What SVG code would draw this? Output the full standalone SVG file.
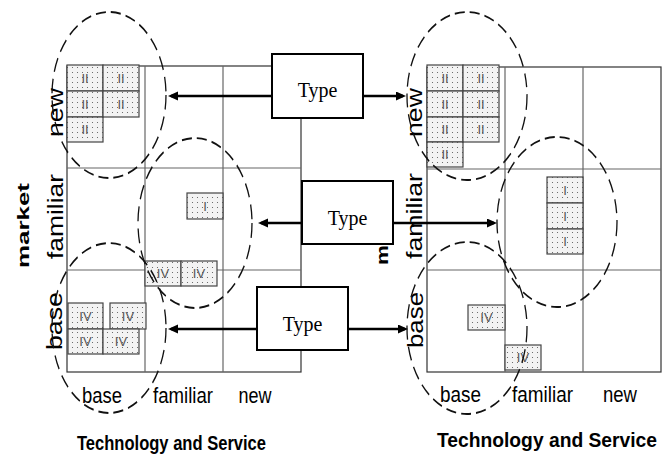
<svg xmlns="http://www.w3.org/2000/svg" width="667" height="457" viewBox="0 0 667 457">
<style>
.grid{fill:none;stroke:#333;stroke-width:1.2}
.inner{stroke:#666;stroke-width:1.2}
.cell{fill:url(#dots);stroke:#444;stroke-width:1.2}
.cl{font-family:"Liberation Sans",Arial,sans-serif;font-size:13px;fill:#555;text-anchor:middle}
.lab{font-family:"Liberation Sans",Arial,sans-serif;font-size:22px;fill:#000;text-anchor:middle}
.bold{font-family:"Liberation Sans",Arial,sans-serif;font-weight:bold;fill:#000}
.ell{fill:none;stroke:#111;stroke-width:1.3;stroke-dasharray:10 5}
.type rect{fill:#fff;stroke:#000;stroke-width:2}
.type text{font-family:"Liberation Serif","Times New Roman",serif;font-size:20px;text-anchor:middle;fill:#000}
.arr{stroke:#000;stroke-width:2.5;fill:none;marker-end:url(#ah)}
</style>
<defs>
<pattern id="dots" width="5" height="5" patternUnits="userSpaceOnUse">
<rect width="5" height="5" fill="#f3f3f3"/>
<circle cx="2.5" cy="2.5" r="0.55" fill="#555"/>
</pattern>
<marker id="ah" markerUnits="userSpaceOnUse" markerWidth="12" markerHeight="10" refX="7" refY="4.5" orient="auto">
<path d="M0,0 L10,4.5 L0,9 z" fill="#000"/>
</marker>
</defs>
<rect width="667" height="457" fill="#fff"/>

<g id="grid-left">
<rect class="grid" x="67" y="66" width="234" height="306"/>
<line class="inner" x1="145" y1="66" x2="145" y2="372"/>
<line class="inner" x1="223" y1="66" x2="223" y2="372"/>
<line class="inner" x1="67" y1="168" x2="301" y2="168"/>
<line class="inner" x1="67" y1="270" x2="301" y2="270"/>
</g>
<g id="grid-right">
<rect class="grid" x="427" y="67" width="234" height="305"/>
<line class="inner" x1="505" y1="67" x2="505" y2="372"/>
<line class="inner" x1="583" y1="67" x2="583" y2="372"/>
<line class="inner" x1="427" y1="169" x2="661" y2="169"/>
<line class="inner" x1="427" y1="270" x2="661" y2="270"/>
</g>

<g id="cells-left">
<rect class="cell" x="67" y="65" width="36" height="26"/><text class="cl" x="85" y="82.5">II</text>
<rect class="cell" x="103" y="65" width="36" height="26"/><text class="cl" x="121" y="82.5">II</text>
<rect class="cell" x="67" y="91" width="36" height="26"/><text class="cl" x="85" y="108.5">II</text>
<rect class="cell" x="103" y="91" width="36" height="26"/><text class="cl" x="121" y="108.5">II</text>
<rect class="cell" x="67" y="117" width="36" height="25"/><text class="cl" x="85" y="134">II</text>
<rect class="cell" x="187" y="193" width="36" height="26"/><text class="cl" x="205" y="210.5">I</text>
<rect class="cell" x="145" y="261" width="36" height="25"/><text class="cl" x="163" y="278">IV</text>
<rect class="cell" x="181" y="261" width="36" height="25"/><text class="cl" x="199" y="278">IV</text>
<rect class="cell" x="68" y="303" width="35" height="26"/><text class="cl" x="85.5" y="320.5">IV</text>
<rect class="cell" x="110" y="303" width="36" height="26"/><text class="cl" x="128" y="320.5">IV</text>
<rect class="cell" x="68" y="329" width="35" height="25"/><text class="cl" x="85.5" y="346">IV</text>
<rect class="cell" x="103" y="329" width="36" height="25"/><text class="cl" x="121" y="346">IV</text>
</g>
<g id="cells-right">
<rect class="cell" x="427" y="65" width="36" height="26"/><text class="cl" x="445" y="82.5">II</text>
<rect class="cell" x="463" y="65" width="36" height="26"/><text class="cl" x="481" y="82.5">II</text>
<rect class="cell" x="427" y="91" width="36" height="26"/><text class="cl" x="445" y="108.5">II</text>
<rect class="cell" x="463" y="91" width="36" height="26"/><text class="cl" x="481" y="108.5">II</text>
<rect class="cell" x="427" y="117" width="36" height="25"/><text class="cl" x="445" y="134">II</text>
<rect class="cell" x="463" y="117" width="36" height="25"/><text class="cl" x="481" y="134">II</text>
<rect class="cell" x="427" y="142" width="36" height="25"/><text class="cl" x="445" y="159">II</text>
<rect class="cell" x="547" y="177" width="36" height="26"/><text class="cl" x="565" y="194.5">I</text>
<rect class="cell" x="547" y="203" width="36" height="26"/><text class="cl" x="565" y="220.5">I</text>
<rect class="cell" x="547" y="229" width="36" height="25"/><text class="cl" x="565" y="246">I</text>
<rect class="cell" x="468" y="305" width="37" height="25"/><text class="cl" x="486.5" y="322">IV</text>
<rect class="cell" x="505" y="345" width="36" height="25"/><text class="cl" x="523" y="362">IV</text>
</g>

<g id="labels">
<text class="lab" transform="translate(63,112.5) rotate(-90)" textLength="49" lengthAdjust="spacingAndGlyphs">new</text>
<text class="lab" transform="translate(63,216.5) rotate(-90)" textLength="85" lengthAdjust="spacingAndGlyphs">familiar</text>
<text class="lab" transform="translate(62,321) rotate(-90)" textLength="58" lengthAdjust="spacingAndGlyphs">base</text>
<text class="lab" transform="translate(422,112.5) rotate(-90)" textLength="49" lengthAdjust="spacingAndGlyphs">new</text>
<text class="lab" transform="translate(422,216) rotate(-90)" textLength="86" lengthAdjust="spacingAndGlyphs">familiar</text>
<text class="lab" transform="translate(423,320) rotate(-90)" textLength="56" lengthAdjust="spacingAndGlyphs">base</text>
<text class="lab" x="102" y="403" textLength="40" lengthAdjust="spacingAndGlyphs">base</text>
<text class="lab" x="183" y="403" textLength="60" lengthAdjust="spacingAndGlyphs">familiar</text>
<text class="lab" x="255" y="403" textLength="33" lengthAdjust="spacingAndGlyphs">new</text>
<text class="lab" x="460.5" y="402" textLength="41" lengthAdjust="spacingAndGlyphs">base</text>
<text class="lab" x="542.5" y="402" textLength="61" lengthAdjust="spacingAndGlyphs">familiar</text>
<text class="lab" x="620" y="402" textLength="34" lengthAdjust="spacingAndGlyphs">new</text>
<text class="bold" font-size="17" text-anchor="middle" transform="translate(29,225.5) rotate(-90)" textLength="85" lengthAdjust="spacingAndGlyphs">market</text>
<text class="bold" font-size="17" transform="translate(388,265) rotate(-90)" textLength="20" lengthAdjust="spacingAndGlyphs">m</text>
<text class="bold" font-size="21" x="77" y="450" textLength="189" lengthAdjust="spacingAndGlyphs">Technology and Service</text>
<text class="bold" font-size="19.5" x="437" y="447" textLength="220" lengthAdjust="spacingAndGlyphs">Technology and Service</text>
</g>

<g id="ellipses">
<circle class="ell" r="57" transform="translate(109,95) scale(1,1.456)"/>
<circle class="ell" r="57" transform="translate(195,223) scale(1,1.49)"/>
<circle class="ell" r="57" transform="translate(109,328) scale(1,1.49)"/>
<circle class="ell" r="60" transform="translate(467,96) scale(1,1.4)"/>
<circle class="ell" r="60" transform="translate(557,222) scale(1,1.417)"/>
<circle class="ell" r="60" transform="translate(467,328) scale(1,1.433)"/>
</g>

<g id="connectors">
<line class="arr" x1="272" y1="96" x2="171" y2="96"/>
<line class="arr" x1="363" y1="96" x2="403" y2="96"/>
<line class="arr" x1="302" y1="223" x2="261" y2="223"/>
<line class="arr" x1="393" y1="223" x2="494" y2="223"/>
<line class="arr" x1="257" y1="329" x2="171" y2="329"/>
<line class="arr" x1="348" y1="329" x2="405" y2="329"/>
</g>

<g id="type-top" class="type"><rect x="272" y="54" width="91" height="64"/><text x="317.5" y="97">Type</text></g>
<g id="type-middle" class="type"><rect x="302" y="181" width="91" height="63"/><text x="347.5" y="225">Type</text></g>
<g id="type-bottom" class="type"><rect x="257" y="287" width="91" height="63"/><text x="302.5" y="331">Type</text></g>
</svg>
